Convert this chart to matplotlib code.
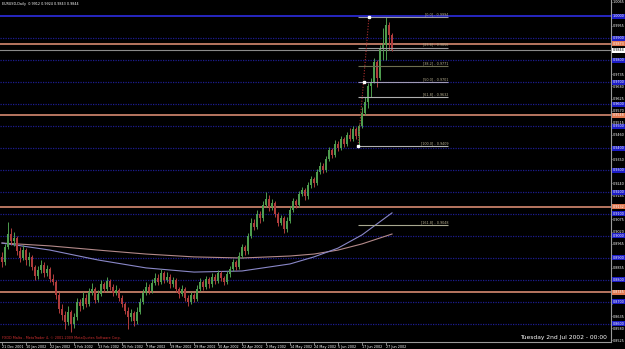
import matplotlib
matplotlib.use("Agg")
import matplotlib.pyplot as plt
import matplotlib.transforms as mtransforms

# daily EURUSD bars, 21 Dec 2001 .. 2 Jul 2002
opens = [0.8905, 0.8880, 0.8950, 0.9010, 0.8975, 0.8990, 0.8930, 0.8900, 0.8935, 0.8890,
         0.8905, 0.8860, 0.8820, 0.8845, 0.8870, 0.8830, 0.8850, 0.8805, 0.8790, 0.8730,
         0.8670, 0.8640, 0.8610, 0.8655, 0.8600, 0.8630, 0.8700, 0.8680, 0.8720, 0.8690,
         0.8745, 0.8760, 0.8710, 0.8735, 0.8780, 0.8760, 0.8795, 0.8770, 0.8740, 0.8755,
         0.8720, 0.8690, 0.8660, 0.8630, 0.8650, 0.8615, 0.8655, 0.8700, 0.8740, 0.8770,
         0.8750, 0.8785, 0.8810, 0.8790, 0.8830, 0.8800, 0.8815, 0.8780, 0.8800, 0.8760,
         0.8735, 0.8760, 0.8720, 0.8700, 0.8730, 0.8715, 0.8760, 0.8790, 0.8770, 0.8805,
         0.8780, 0.8815, 0.8795, 0.8830, 0.8810, 0.8790, 0.8825, 0.8850, 0.8880, 0.8860,
         0.8910, 0.8950, 0.8930, 0.9000, 0.9060, 0.9040, 0.9100, 0.9080, 0.9140, 0.9170,
         0.9130, 0.9150, 0.9100, 0.9060, 0.9080, 0.9030, 0.9070, 0.9120, 0.9160, 0.9140,
         0.9190, 0.9210, 0.9180, 0.9230, 0.9260, 0.9240, 0.9290, 0.9320, 0.9300, 0.9350,
         0.9390, 0.9370, 0.9420, 0.9400, 0.9440, 0.9420, 0.9460, 0.9440, 0.9485, 0.9455,
         0.9500, 0.9560, 0.9610, 0.9680, 0.9700, 0.9790, 0.9720, 0.9850, 0.9870, 0.9960,
         0.9912]
highs = [0.8925, 0.8965, 0.9064, 0.9035, 0.9020, 0.9000, 0.8950, 0.8960, 0.8945, 0.8925,
         0.8915, 0.8870, 0.8865, 0.8890, 0.8880, 0.8870, 0.8860, 0.8825, 0.8800, 0.8745,
         0.8690, 0.8660, 0.8680, 0.8665, 0.8650, 0.8720, 0.8715, 0.8745, 0.8735, 0.8765,
         0.8785, 0.8770, 0.8755, 0.8800, 0.8790, 0.8815, 0.8805, 0.8780, 0.8775, 0.8765,
         0.8730, 0.8700, 0.8675, 0.8670, 0.8660, 0.8675, 0.8720, 0.8760, 0.8790, 0.8780,
         0.8805, 0.8830, 0.8825, 0.8850, 0.8840, 0.8835, 0.8825, 0.8815, 0.8810, 0.8770,
         0.8775, 0.8770, 0.8730, 0.8745, 0.8740, 0.8775, 0.8810, 0.8800, 0.8820, 0.8815,
         0.8830, 0.8825, 0.8845, 0.8840, 0.8820, 0.8840, 0.8865, 0.8895, 0.8890, 0.8925,
         0.8965, 0.8960, 0.9015, 0.9080, 0.9075, 0.9120, 0.9115, 0.9160, 0.9200, 0.9185,
         0.9170, 0.9160, 0.9110, 0.9095, 0.9090, 0.9085, 0.9135, 0.9175, 0.9170, 0.9205,
         0.9225, 0.9220, 0.9245, 0.9275, 0.9270, 0.9305, 0.9335, 0.9330, 0.9365, 0.9405,
         0.9400, 0.9435, 0.9430, 0.9455, 0.9450, 0.9475, 0.9490, 0.9500, 0.9495, 0.9510,
         0.9586, 0.9632, 0.9695, 0.9718, 0.9809, 0.9800, 0.9870, 0.9945, 0.9994, 0.9973,
         0.9924]
lows = [0.8860, 0.8870, 0.8940, 0.8960, 0.8955, 0.8915, 0.8880, 0.8890, 0.8870, 0.8865,
        0.8845, 0.8800, 0.8805, 0.8830, 0.8815, 0.8820, 0.8790, 0.8775, 0.8715, 0.8650,
        0.8620, 0.8575, 0.8595, 0.8565, 0.8580, 0.8620, 0.8660, 0.8670, 0.8675, 0.8680,
        0.8730, 0.8695, 0.8700, 0.8725, 0.8745, 0.8750, 0.8755, 0.8725, 0.8730, 0.8705,
        0.8675, 0.8645, 0.8575, 0.8615, 0.8590, 0.8600, 0.8645, 0.8690, 0.8730, 0.8735,
        0.8740, 0.8775, 0.8775, 0.8780, 0.8785, 0.8790, 0.8765, 0.8770, 0.8745, 0.8720,
        0.8725, 0.8705, 0.8680, 0.8690, 0.8700, 0.8705, 0.8750, 0.8755, 0.8760, 0.8765,
        0.8770, 0.8780, 0.8785, 0.8795, 0.8775, 0.8780, 0.8815, 0.8840, 0.8845, 0.8850,
        0.8900, 0.8915, 0.8920, 0.8990, 0.9025, 0.9030, 0.9060, 0.9070, 0.9130, 0.9115,
        0.9120, 0.9085, 0.9045, 0.9050, 0.9015, 0.9020, 0.9060, 0.9110, 0.9125, 0.9130,
        0.9180, 0.9165, 0.9170, 0.9220, 0.9225, 0.9230, 0.9280, 0.9285, 0.9290, 0.9340,
        0.9355, 0.9360, 0.9385, 0.9390, 0.9405, 0.9410, 0.9430, 0.9430, 0.9440, 0.9409,
        0.9490, 0.9550, 0.9580, 0.9632, 0.9695, 0.9677, 0.9710, 0.9800, 0.9800, 0.9845,
        0.9843]
closes = [0.8880, 0.8950, 0.9010, 0.8975, 0.8990, 0.8930, 0.8900, 0.8935, 0.8890, 0.8905,
          0.8860, 0.8820, 0.8845, 0.8870, 0.8830, 0.8850, 0.8805, 0.8790, 0.8730, 0.8670,
          0.8640, 0.8610, 0.8655, 0.8600, 0.8630, 0.8700, 0.8680, 0.8720, 0.8690, 0.8745,
          0.8760, 0.8710, 0.8735, 0.8780, 0.8760, 0.8795, 0.8770, 0.8740, 0.8755, 0.8720,
          0.8690, 0.8660, 0.8630, 0.8650, 0.8615, 0.8655, 0.8700, 0.8740, 0.8770, 0.8750,
          0.8785, 0.8810, 0.8790, 0.8830, 0.8800, 0.8815, 0.8780, 0.8800, 0.8760, 0.8735,
          0.8760, 0.8720, 0.8700, 0.8730, 0.8715, 0.8760, 0.8790, 0.8770, 0.8805, 0.8780,
          0.8815, 0.8795, 0.8830, 0.8810, 0.8790, 0.8825, 0.8850, 0.8880, 0.8860, 0.8910,
          0.8950, 0.8930, 0.9000, 0.9060, 0.9040, 0.9100, 0.9080, 0.9140, 0.9170, 0.9130,
          0.9150, 0.9100, 0.9060, 0.9080, 0.9030, 0.9070, 0.9120, 0.9160, 0.9140, 0.9190,
          0.9210, 0.9180, 0.9230, 0.9260, 0.9240, 0.9290, 0.9320, 0.9300, 0.9350, 0.9390,
          0.9370, 0.9420, 0.9400, 0.9440, 0.9420, 0.9460, 0.9440, 0.9485, 0.9455, 0.9500,
          0.9560, 0.9610, 0.9680, 0.9700, 0.9790, 0.9720, 0.9850, 0.9870, 0.9960, 0.9912,
          0.9844]

date_labels = ["21 Dec 2001", "10 Jan 2002", "22 Jan 2002", "1 Feb 2002", "13 Feb 2002",
               "25 Feb 2002", "7 Mar 2002", "19 Mar 2002", "29 Mar 2002", "10 Apr 2002",
               "22 Apr 2002", "2 May 2002", "14 May 2002", "24 May 2002", "5 Jun 2002",
               "17 Jun 2002", "27 Jun 2002"]
date_bars = [0, 8, 16, 24, 32, 40, 48, 56, 64, 72, 80, 88, 96, 104, 112, 120, 128]

# moving averages, sampled at bar positions
ma_bars = [0, 16, 32, 48, 64, 80, 96, 104, 112, 120, 130]
ma_fast = [0.8968, 0.8936, 0.8891, 0.8855, 0.8836, 0.8841, 0.8873, 0.8905, 0.8945, 0.9005, 0.9105]
ma_slow = [0.8968, 0.8955, 0.8936, 0.8918, 0.8905, 0.8900, 0.8909, 0.8918, 0.8936, 0.8964, 0.9009]

# fibonacci retracement
fib_levels = ["0.0", "23.6", "38.2", "50.0", "61.8", "100.0", "161.8"]
fib_prices = [0.9994, 0.9856, 0.9771, 0.9701, 0.9632, 0.9409, 0.9048]
fib_colors = ["#9a9a9a", "#9a9a9a", "#6f6f50", "#a09ab8", "#b0b0b0", "#b0b0b0", "#a8a890"]
fib_start, fib_end = 118.7, 148.7
fib_anchor_bars = [118.7, 122.3]

# horizontal lines
blue_levels = [0.9900, 0.9800, 0.9700, 0.9600, 0.9500, 0.9400, 0.9300, 0.9200,
               0.9100, 0.9000, 0.8900, 0.8800, 0.8700, 0.8600]
top_level = 1.0000
orange_levels = [0.9873, 0.9548, 0.9132, 0.8745]
bid = 0.9844

price_ticks = [1.0065, 1.0010, 0.9955, 0.9900, 0.9845, 0.9790, 0.9735, 0.9680, 0.9625,
               0.9570, 0.9515, 0.9460, 0.9405, 0.9350, 0.9295, 0.9240, 0.9185, 0.9130,
               0.9075, 0.9020, 0.8965, 0.8910, 0.8855, 0.8800, 0.8745, 0.8690, 0.8635,
               0.8580, 0.8525]

UP = "#4e9c4e"
DOWN = "#b03c3c"
FS = 2.4

fig = plt.figure(figsize=(6.25, 3.49), dpi=100, facecolor="black")
ax = fig.add_axes([0, 7 / 349, 611 / 625, 342 / 349], facecolor="black")

ax.set_xlim(-2 / 3, 609 / 3)
ax.set_ylim(0.851818, 1.007273)

# grid-like horizontal lines
for lv in blue_levels:
    ax.axhline(lv, color="#1c1c90", lw=0.9, ls=(0, (1, 1)), zorder=1)
ax.axhline(top_level, color="#2a2ad0", lw=1.3, zorder=1)
for lv in orange_levels:
    ax.axhline(lv, color="#e8967a", lw=1.1, zorder=1)
ax.axhline(bid, color="#8a8a8a", lw=0.8, zorder=1)

# moving averages
ax.plot(ma_bars, ma_slow, color="#b48a8a", lw=0.8, zorder=2)
ax.plot(ma_bars, ma_fast, color="#8a88c8", lw=0.8, zorder=2)

# candles
for i in range(len(closes)):
    c = UP if closes[i] >= opens[i] else DOWN
    ax.vlines(i, lows[i], highs[i], color=c, lw=0.7, zorder=3)
    lo, hi = sorted([opens[i], closes[i]])
    ax.bar(i, max(hi - lo, 0.0001), 0.5, bottom=lo, color=c, lw=0, zorder=3)

# fibonacci
for lvl, pr, col in zip(fib_levels, fib_prices, fib_colors):
    ax.hlines(pr, fib_start, fib_end, color=col, lw=0.8, zorder=4)
    ax.text(fib_end, pr + 0.0004, f"[{lvl}] - {pr:.4f}", color="#b8b090",
            fontsize=FS, ha="right", va="bottom", zorder=5)
ax.plot(fib_anchor_bars, [fib_prices[5], fib_prices[0]], color="#b03030",
        lw=0.8, ls=(0, (1, 1.5)), zorder=4)
ax.plot([fib_anchor_bars[0], sum(fib_anchor_bars) / 2, fib_anchor_bars[1]],
        [fib_prices[5], (fib_prices[5] + fib_prices[0]) / 2, fib_prices[0]],
        ls="none", marker="s", ms=1.5, color="white", zorder=5)

# axes styling
for s in ["top", "left"]:
    ax.spines[s].set_visible(False)
for s in ["right", "bottom"]:
    ax.spines[s].set_color("#9a9a9a")
    ax.spines[s].set_linewidth(0.8)

# price tags cover the plain scale labels underneath them
tag_levels = [top_level] + blue_levels + orange_levels + [bid]
tick_text = []
for p in price_ticks:
    hidden = any(abs(p - t) < 0.0012 for t in tag_levels)
    tick_text.append("" if hidden else f"{p:.4f}")

ax.yaxis.tick_right()
ax.set_yticks(price_ticks, tick_text)
ax.tick_params(axis="y", colors="#9a9a9a", labelcolor="white", labelsize=FS,
               length=1, width=0.6, pad=0.3)
ax.set_xticks(date_bars, date_labels)
ax.tick_params(axis="x", colors="#9a9a9a", labelcolor="white", labelsize=FS,
               length=2, width=0.6, pad=0.3)
for lab in ax.get_xticklabels():
    lab.set_ha("left")

trans = mtransforms.blended_transform_factory(ax.transAxes, ax.transData)


def price_tag(p, fc, tc):
    ax.text(1.0025, p, f"{p:.4f}", transform=trans, fontsize=FS, color=tc,
            va="center", ha="left", clip_on=False, zorder=6,
            bbox=dict(boxstyle="square,pad=0.15", fc=fc, ec="none"))


price_tag(top_level, "#1c1cc8", "white")
for lv in blue_levels:
    price_tag(lv, "#1c1cc8", "white")
for lv in orange_levels:
    price_tag(lv, "#e07850", "white")
price_tag(bid, "white", "black")

ax.text(0.004, 0.994, "EURUSD,Daily  0.9912 0.9924 0.9843 0.9844", transform=ax.transAxes,
        color="white", fontsize=FS, ha="left", va="top")
ax.text(0.003, 0.006, "FXDD Malta - MetaTrader 4, \u00a9 2001-2009 MetaQuotes Software Corp.",
        transform=ax.transAxes, color="#d03030", fontsize=FS, ha="left", va="bottom")
ax.text(0.994, 0.006, "Tuesday 2nd Jul 2002 - 00:00", transform=ax.transAxes,
        color="white", fontsize=4.3, ha="right", va="bottom")

fig.savefig("out.png", dpi=100, facecolor="black")
